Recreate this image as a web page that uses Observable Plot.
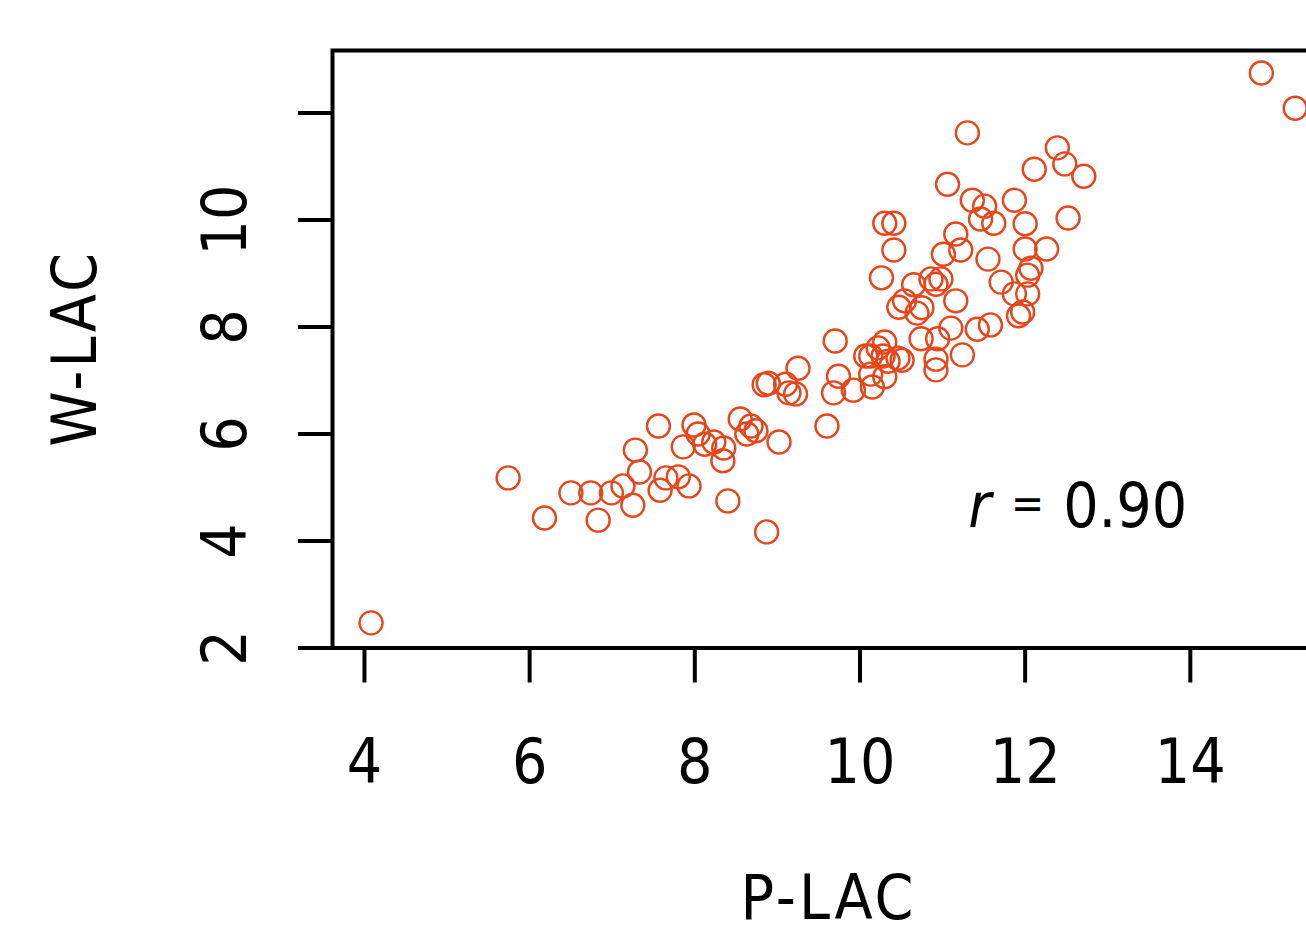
<!DOCTYPE html>
<html>
<head>
<meta charset="utf-8">
<script src="https://cdn.jsdelivr.net/npm/d3@7"></script>
<script src="https://cdn.jsdelivr.net/npm/@observablehq/plot@0.6"></script>
<style>
  html, body { margin: 0; padding: 0; background: #fff; overflow: hidden; }
  #chart { width: 1306px; height: 933px; overflow: hidden; }
</style>
</head>
<body>
<div id="chart"></div>
<script>
// P-LAC (x) and W-LAC (y) values
const pLAC = [4.08,5.74,6.18,6.50,6.74,6.83,6.99,7.13,7.25,7.28,7.33,7.56,7.58,7.65,7.80,7.93,7.86,7.99,8.04,8.12,
  8.23,8.35,8.34,8.40,8.55,8.63,8.68,8.74,8.84,8.89,8.87,9.02,9.10,9.14,9.22,9.25,9.60,9.70,9.68,9.74,
  9.92,10.07,10.13,10.22,10.28,10.34,10.46,10.51,10.30,10.13,10.15,10.30,10.26,10.30,10.41,10.41,10.47,10.54,10.65,10.69,
  10.75,10.74,10.86,10.92,10.98,10.94,10.92,10.92,11.10,11.16,11.16,11.22,11.01,11.06,11.24,11.30,11.36,11.51,11.46,11.62,
  11.55,11.42,11.58,11.71,11.87,11.87,11.92,11.97,12.00,12.00,12.03,12.07,12.03,12.11,12.26,12.39,12.48,12.52,12.71,14.86,15.27];
const wLAC = [2.47,5.18,4.43,4.90,4.90,4.39,4.90,5.03,4.67,5.70,5.29,6.15,4.95,5.18,5.20,5.03,5.76,6.17,6.00,5.81,
  5.85,5.74,5.50,4.75,6.28,6.00,6.15,6.06,6.92,6.95,4.17,5.85,6.93,6.77,6.75,7.23,6.15,7.74,6.77,7.08,
  6.82,7.46,7.46,7.61,7.46,7.36,7.42,7.38,7.72,7.12,6.88,7.07,8.92,9.94,9.94,9.44,8.37,8.49,8.79,8.26,
  8.36,7.78,8.90,8.80,8.90,7.78,7.40,7.20,7.98,8.49,9.74,9.44,9.36,10.67,7.48,11.63,10.37,10.26,10.02,9.94,
  9.27,7.96,8.04,8.84,10.37,8.62,8.21,8.28,9.93,9.46,8.97,9.10,8.62,10.95,9.46,11.35,11.05,10.04,10.82,12.75,12.09];

const xTicks = [4, 6, 8, 10, 12, 14];
const yTicks = [2, 4, 6, 8, 10, 12];
const yLabelled = [2, 4, 6, 8, 10];
const xTitle = "P-LAC";
const yTitle = "W-LAC";
const rText = "r";
const eqText = "=";
const rValueText = "0.90";

const points = pLAC.map((p, i) => ({p, w: wLAC[i]}));

const FONT = "'DejaVu Sans Condensed', 'DejaVu Sans', sans-serif";
const FS = 62;
const COLOR = "#E6461B";

const chart = Plot.plot({
  width: 1340,
  height: 933,
  marginLeft: 332,
  marginRight: 4,
  marginTop: 50,
  marginBottom: 285.5,
  style: {maxWidth: "none", fontFamily: FONT, fontSize: FS + "px", color: "black", background: "white", overflow: "visible"},
  x: {domain: [3.613, 15.77], axis: null},
  y: {domain: [2, 13.17], axis: null},
  marks: [
    Plot.frame({stroke: "black", strokeWidth: 4}),
    Plot.axisX({
      ticks: xTicks, anchor: "bottom", tickSize: 35, tickPadding: 55.5,
      strokeWidth: 4, fontSize: FS, fontFamily: FONT, label: null,
      tickFormat: d => String(d)
    }),
    Plot.axisY({
      ticks: yTicks, anchor: "left", tickSize: 34, tickPadding: 53, tickRotate: -90,
      strokeWidth: 4, fontSize: FS, fontFamily: FONT, label: null,
      tickFormat: d => yLabelled.includes(d) ? String(d) : ""
    }),
    Plot.dot(points, {x: "p", y: "w", r: 11.5, stroke: COLOR, strokeWidth: 2.4, fill: "none"}),
    Plot.text([xTitle], {frameAnchor: "bottom", text: d => d, lineAnchor: "bottom", dy: 271, dx: -6, fontSize: FS, fontFamily: FONT}),
    Plot.text([yTitle], {frameAnchor: "left", text: d => d, rotate: -90, lineAnchor: "bottom", textAnchor: "middle", dx: -237, dy: -1, fontSize: FS, fontFamily: FONT}),
    Plot.text([{x: 11.31, y: 4.63}], {x: "x", y: "y", text: () => rText, textAnchor: "start", lineAnchor: "middle", fontStyle: "italic", fontSize: FS, fontFamily: FONT}),
    Plot.text([{x: 12.03, y: 4.68}], {x: "x", y: "y", text: () => eqText, textAnchor: "middle", lineAnchor: "middle", fontSize: 44, fontFamily: FONT}),
    Plot.text([{x: 12.46, y: 4.63}], {x: "x", y: "y", text: () => rValueText, textAnchor: "start", lineAnchor: "middle", fontSize: FS, fontFamily: FONT})
  ]
});
// slightly wider letter spacing on the axis titles, as in the reference
d3.select(chart).selectAll("text")
  .filter(function () { return this.textContent === xTitle || this.textContent === yTitle; })
  .style("letter-spacing", "3px");
document.getElementById("chart").appendChild(chart);
</script>
</body>
</html>
